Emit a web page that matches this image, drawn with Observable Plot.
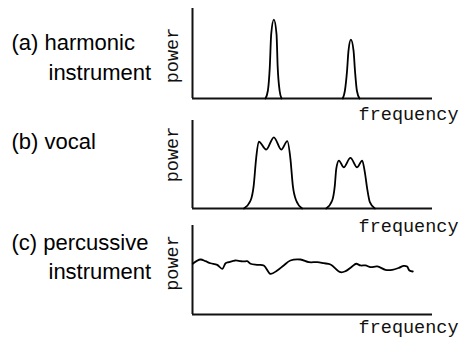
<!DOCTYPE html>
<html><head><meta charset="utf-8">
<script src="https://cdn.jsdelivr.net/npm/d3@7"></script>
<script src="https://cdn.jsdelivr.net/npm/@observablehq/plot@0.6"></script>
<style>
html,body{margin:0;padding:0;background:#fff;}
#chart{position:relative;width:459px;height:338px;overflow:hidden;background:#fff;}
#chart svg{position:absolute;left:0;}
</style></head><body><div id="chart"></div>
<script>
// ---- text ----
const xAxisLabel = "frequency";
const yAxisLabel = "power";
const labelsA = ["(a) harmonic", "instrument"];
const labelsB = ["(b) vocal"];
const labelsC = ["(c) percussive", "instrument"];

// ---- data (frequency 0..100, power 0..100) ----
// (a) harmonic instrument: two narrow peaks
const harmonicX = [30.4,31.4,32.2,32.8,33.9,35.0,35.5,36.3,37.1, 62.6,63.5,64.4,65.0,66.0,67.1,67.7,68.5,69.6];
const harmonicY = [0,8.6,34.6,71.8,87.7,71.8,34.6,8.6,0, 0,8.6,30.9,53.2,65.4,53.2,30.9,8.6,0];
const harmonicPeak = [1,1,1,1,1,1,1,1,1, 2,2,2,2,2,2,2,2,2];

// (b) vocal: two broad formant blobs with ripples
const vocalX = [21.4,24.2,25.5,26.5,27.6,30.7,33.9,37.0,39.5,40.8,41.8,43.2,45.7,
                55.7,58.2,59.3,59.9,61.0,63.0,65.8,68.6,70.7,71.8,72.8,73.9,76.0];
const vocalY = [0,9.1,26.1,56.5,76.1,67.0,80.9,67.0,76.5,56.5,26.1,9.1,0,
                0,9.1,26.1,45.1,54.5,46.9,57.6,46.9,54.5,41.3,22.4,7.2,0];
const vocalBand = [1,1,1,1,1,1,1,1,1,1,1,1,1, 2,2,2,2,2,2,2,2,2,2,2,2,2];

// (c) percussive instrument: broad noisy spectrum
const percX = [0.1,3.3,5.4,7.5,10.3,12.4,13.8,15.1,17.9,20.0,21.4,22.8,24.2,26.9,29.7,32.5,35.3,38.0,40.8,45.0,
               48.5,52.0,54.7,57.5,61.7,63.8,66.5,68.2,70.0,72.1,74.2,77.0,80.4,83.2,86.0,88.0,89.4,90.4,91.8];
const percY = [57.0,61.8,59.9,57.6,55.8,51.3,57.6,58.8,60.7,59.9,59.6,59.9,57.0,55.8,55.1,45.7,49.4,55.1,60.7,61.8,
               58.8,58.8,57.6,56.2,47.5,48.7,54.0,57.0,55.1,55.1,53.2,54.0,50.2,50.2,52.4,54.7,53.9,49.4,48.3];

// ---- drawing ----
const W = 459, ML = 192, MR = 27;
const monoFont = "'Liberation Mono', 'Courier New', monospace";
const sansFont = "'Liberation Sans', Arial, sans-serif";
const ink = "#111";

function panel({top, marginTop, inner, marginBottom, data, z, curve, labels, labelPos, powerDy, freqDy}) {
  const height = marginTop + inner + marginBottom;
  const marks = [
    Plot.ruleX([0], {stroke: ink, strokeWidth: 2}),
    Plot.ruleY([0], {stroke: ink, strokeWidth: 2}),
    Plot.line(data, {x: "x", y: "y", z: z ? "z" : undefined, curve, stroke: "#000", strokeWidth: 1.8}),
    Plot.text([xAxisLabel], {text: d => d, frameAnchor: "bottom-right", textAnchor: "end", lineAnchor: "bottom",
      dx: 26, dy: freqDy, fontFamily: monoFont, fontSize: 18.5, fill: "#111"}),
    Plot.text([yAxisLabel], {text: d => d, frameAnchor: "left", rotate: -90, textAnchor: "middle", lineAnchor: "middle",
      dx: -20, dy: powerDy, fontFamily: monoFont, fontSize: 18.5, fill: "#111"}),
    ...labels.map((t, i) => Plot.text([t], {text: d => d, frameAnchor: "top-left", textAnchor: "start", lineAnchor: "bottom",
      dx: labelPos[i][0] - ML, dy: labelPos[i][1] - top - marginTop, fontFamily: sansFont, fontSize: 22, fill: "#000"}))
  ];
  const svg = Plot.plot({
    width: W, height, marginLeft: ML, marginRight: MR, marginTop, marginBottom,
    x: {domain: [0, 100], axis: null},
    y: {domain: [0, 100], axis: null},
    style: {background: "transparent"},
    marks
  });
  svg.style.top = top + "px";
  return svg;
}

const chart = document.getElementById("chart");
chart.append(panel({
  top: 0, marginTop: 8, inner: 90, marginBottom: 30,
  data: harmonicX.map((x, i) => ({x, y: harmonicY[i], z: harmonicPeak[i]})), z: true, curve: "monotone-x",
  labels: labelsA, labelPos: [[11, 49], [48, 79]], powerDy: 2, freqDy: 21.5
}));
chart.append(panel({
  top: 112, marginTop: 8, inner: 88, marginBottom: 30,
  data: vocalX.map((x, i) => ({x, y: vocalY[i], z: vocalBand[i]})), z: true, curve: "monotone-x",
  labels: labelsB, labelPos: [[11, 148]], powerDy: -10, freqDy: 23
}));
chart.append(panel({
  top: 217, marginTop: 8, inner: 89, marginBottom: 24,
  data: percX.map((x, i) => ({x, y: percY[i]})), z: false, curve: "catmull-rom",
  labels: labelsC, labelPos: [[11, 249], [48, 278]], powerDy: -7, freqDy: 18.5
}));
</script></body></html>
